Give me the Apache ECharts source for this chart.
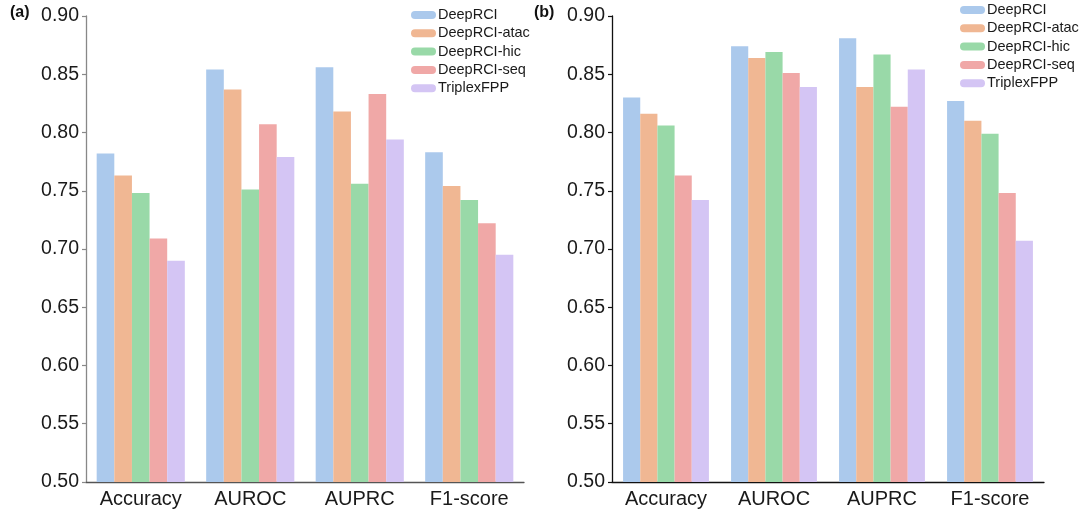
<!DOCTYPE html>
<html>
<head>
<meta charset="utf-8">
<script src="https://cdn.jsdelivr.net/npm/echarts@6/dist/echarts.min.js"></script>
<style>html,body{margin:0;padding:0;background:#fff}#c{width:1087px;height:512px}</style>
</head>
<body>
<div id="c"></div>
<script>
const categories = ['Accuracy', 'AUROC', 'AUPRC', 'F1-score'];
const seriesNames = ['DeepRCI', 'DeepRCI-atac', 'DeepRCI-hic', 'DeepRCI-seq', 'TriplexFPP'];
const yTicks = [0.50, 0.55, 0.60, 0.65, 0.70, 0.75, 0.80, 0.85, 0.90];

// panel (a)
const aDeepRCI = [0.782, 0.854, 0.856, 0.783];
const aAtac    = [0.763, 0.837, 0.818, 0.754];
const aHic     = [0.748, 0.751, 0.756, 0.742];
const aSeq     = [0.709, 0.807, 0.833, 0.722];
const aTriplex = [0.690, 0.779, 0.794, 0.695];

// panel (b)
const bDeepRCI = [0.830, 0.874, 0.881, 0.827];
const bAtac    = [0.816, 0.864, 0.839, 0.810];
const bHic     = [0.806, 0.869, 0.867, 0.799];
const bSeq     = [0.763, 0.851, 0.822, 0.748];
const bTriplex = [0.742, 0.839, 0.854, 0.707];

const colors = ['#abc9ec', '#f0b793', '#99d9a8', '#f0a8a7', '#d4c5f4'];
const pill = 'path://M4 0H21A4 4 0 0 1 21 8H4A4 4 0 0 1 4 0Z';
const font = 'Liberation Sans, Arial, sans-serif';

const chart = echarts.init(document.getElementById('c'), null, {renderer: 'canvas'});

function xAxis(idx, axisColor) {
  return {
    type: 'category', gridIndex: idx, data: categories,
    axisLine: {lineStyle: {color: axisColor, width: 1.3}},
    axisTick: {alignWithLabel: true, length: 4, lineStyle: {color: axisColor, width: 1.2}},
    axisLabel: {fontSize: 20, color: '#1a1a1a', fontFamily: font, margin: 7}
  };
}
function yAxis(idx, axisColor) {
  return {
    type: 'value', gridIndex: idx, min: 0.50, max: 0.90, interval: 0.05,
    axisLine: {show: true, lineStyle: {color: axisColor, width: 1.3}},
    axisTick: {show: true, length: 4, lineStyle: {color: axisColor, width: 1.2}},
    splitLine: {show: false},
    axisLabel: {fontSize: 19.5, color: '#1a1a1a', fontFamily: font, margin: 7,
      formatter: v => { const t = yTicks.find(x => Math.abs(x - v) < 1e-6); return t === undefined ? '' : t.toFixed(2); }}
  };
}
function legend(idx, left, top) {
  return {
    data: seriesNames.map(n => ({name: n, icon: pill})),
    orient: 'vertical', left: left, top: top, padding: 0,
    itemWidth: 25, itemHeight: 8, itemGap: 2.3,
    textStyle: {fontSize: 14.5, color: '#1a1a1a', fontFamily: font, lineHeight: 16, padding: [0, 0, 0, -3]},
    selectedMode: false
  };
}
const aData = [aDeepRCI, aAtac, aHic, aSeq, aTriplex];
const bData = [bDeepRCI, bAtac, bHic, bSeq, bTriplex];
const series = [];
seriesNames.forEach((n, i) => {
  series.push({name: n, type: 'bar', xAxisIndex: 0, yAxisIndex: 0, data: aData[i],
    barWidth: '16.1%', barGap: '0%', itemStyle: {color: colors[i]}, silent: true});
});
seriesNames.forEach((n, i) => {
  series.push({name: n, type: 'bar', xAxisIndex: 1, yAxisIndex: 1, data: bData[i],
    barWidth: '15.9%', barGap: '0%', itemStyle: {color: colors[i]}, silent: true});
});

chart.setOption({
  animation: false,
  color: colors,
  grid: [
    {left: 86, right: 1087 - 524, top: 16, bottom: 30},
    {left: 612, right: 1087 - 1044, top: 16, bottom: 30}
  ],
  xAxis: [xAxis(0, '#555'), xAxis(1, '#111')],
  yAxis: [yAxis(0, '#888'), yAxis(1, '#111')],
  legend: [legend(0, 411, 7), legend(1, 960, 2)],
  graphic: [
    {type: 'text', left: 10, top: 5, style: {text: '(a)', font: 'bold 16px Liberation Sans, Arial, sans-serif', fill: '#111'}},
    {type: 'text', left: 534, top: 5, style: {text: '(b)', font: 'bold 16px Liberation Sans, Arial, sans-serif', fill: '#111'}}
  ],
  series: series
});
</script>
</body>
</html>
